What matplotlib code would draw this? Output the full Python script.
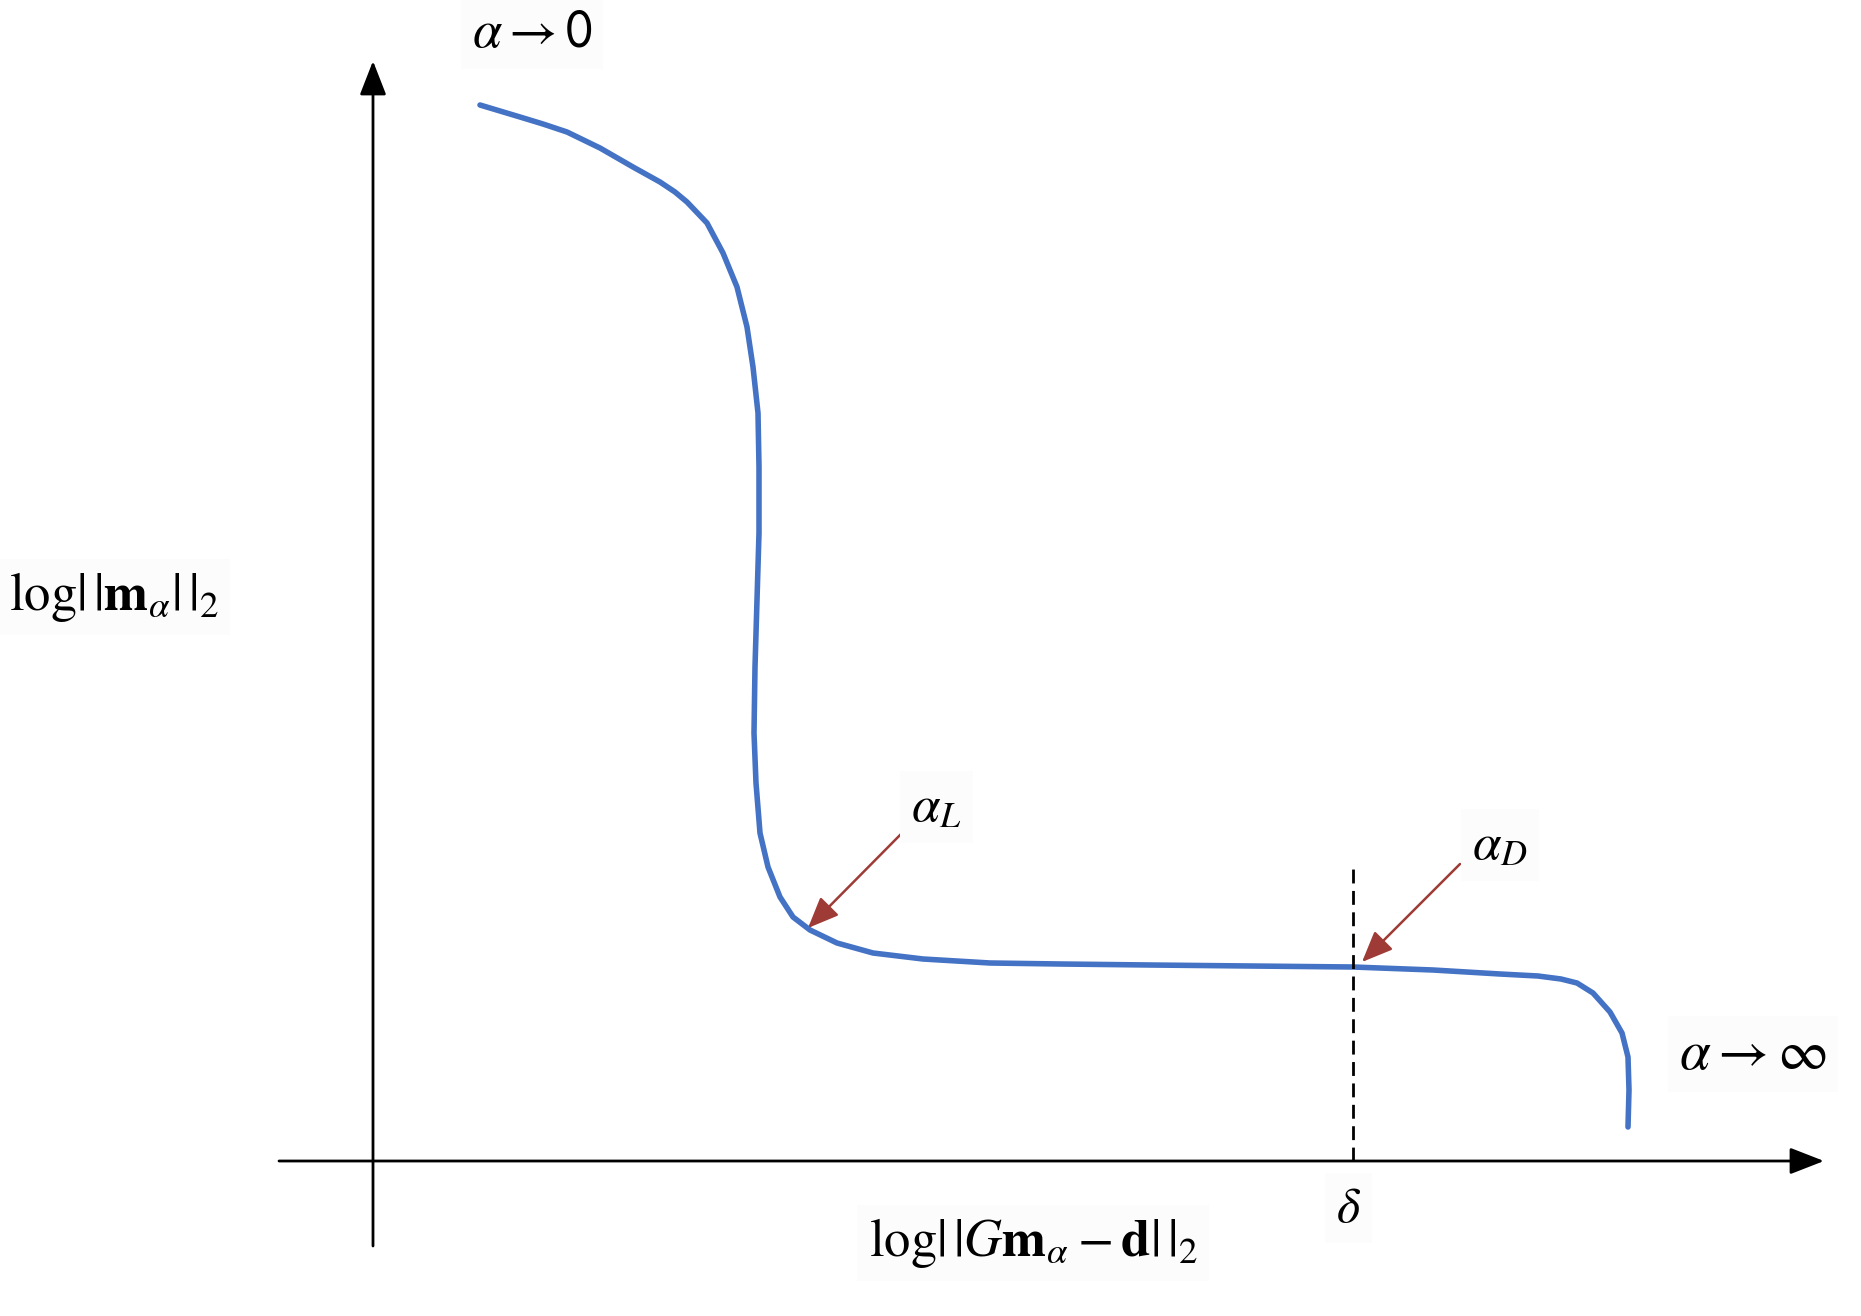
import matplotlib.pyplot as plt

plt.rcParams['mathtext.fontset'] = 'stix'
plt.rcParams['font.family'] = ['DejaVu Sans']

# L-curve sketch (schematic units, origin where the axes cross)
curve_x = [1.07, 1.47, 1.70, 1.94, 2.27, 2.60, 2.87, 3.02, 3.14, 3.34, 3.50, 3.64, 3.74,
           3.80, 3.85, 3.86, 3.86, 3.84, 3.82, 3.81, 3.83, 3.87, 3.95, 4.07, 4.20,
           4.37, 4.64, 5.00, 5.50, 6.17, 6.87, 7.77, 8.77, 9.80, 10.60, 11.27, 11.65,
           11.88, 12.04, 12.20, 12.37, 12.49, 12.55, 12.56, 12.55]
curve_y = [10.56, 10.44, 10.37, 10.29, 10.13, 9.94, 9.79, 9.69, 9.59, 9.38, 9.08, 8.74,
           8.34, 7.94, 7.48, 6.94, 6.28, 5.61, 4.94, 4.28, 3.78, 3.28, 2.94, 2.64,
           2.44, 2.31, 2.18, 2.08, 2.02, 1.98, 1.97, 1.96, 1.95, 1.94, 1.91, 1.87,
           1.85, 1.82, 1.78, 1.68, 1.49, 1.28, 1.04, 0.71, 0.34]

delta_x = 9.80
corner_L = (4.35, 2.33)
corner_D = (9.89, 1.99)

fig = plt.figure(figsize=(18.61, 13.16), dpi=100)
ax = fig.add_axes([0, 0, 1, 1])
ax.set_xlim(-3.73, 14.88)
ax.set_ylim(-1.55, 11.61)
ax.axis('off')

# axes with arrow heads
axis_arrow = dict(arrowstyle='-|>,head_length=1.0,head_width=0.39', mutation_scale=21,
                  color='black', lw=2.0, shrinkA=0, shrinkB=0)
ax.annotate('', xy=(0, 11.0), xytext=(0, -0.85), arrowprops=axis_arrow)
ax.annotate('', xy=(14.51, 0), xytext=(-0.94, 0), arrowprops=axis_arrow)

# the curve
ax.plot(curve_x, curve_y, color='#4472C4', lw=4.0, solid_capstyle='round',
        solid_joinstyle='round')

# discrepancy level
ax.plot([delta_x, delta_x], [0, 2.97], color='black', lw=2.0, dashes=(5, 2.7))

red_arrow = dict(arrowstyle='-|>,head_length=1.0,head_width=0.42', mutation_scale=19,
                 color='#9E3B36', lw=1.8, shrinkA=0, shrinkB=0)
ax.annotate('', xy=corner_L, xytext=(5.33, 3.32), arrowprops=red_arrow)
ax.annotate('', xy=corner_D, xytext=(10.87, 2.97), arrowprops=red_arrow)

box = dict(facecolor='#fcfcfc', edgecolor='none', pad=8)
ax.text(0.99, 11.29, r'$\alpha \rightarrow \mathsf{0}$', fontsize=38, ha='left', va='center', bbox=box)
ax.text(13.06, 1.07, r'$\alpha \rightarrow \infty$', fontsize=40, ha='left', va='center', bbox=box)
ax.text(5.38, 3.54, r'$\alpha_L$', fontsize=37, ha='left', va='center', bbox=box)
ax.text(10.99, 3.16, r'$\alpha_D$', fontsize=37, ha='left', va='center', bbox=box)
ax.text(9.75, -0.47, r'$\delta$', fontsize=36, ha='center', va='center', bbox=box)
ax.text(-3.64, 5.64, r'$\mathrm{log}|\,|\mathbf{m}_\alpha|\,|_2$', fontsize=38,
        ha='left', va='center', bbox=box)
ax.text(6.60, -0.82, r'$\mathrm{log}|\,|G\mathbf{m}_\alpha - \mathbf{d}|\,|_2$', fontsize=38,
        ha='center', va='center', bbox=box)

fig.savefig('out.png', dpi=100, facecolor='white')
